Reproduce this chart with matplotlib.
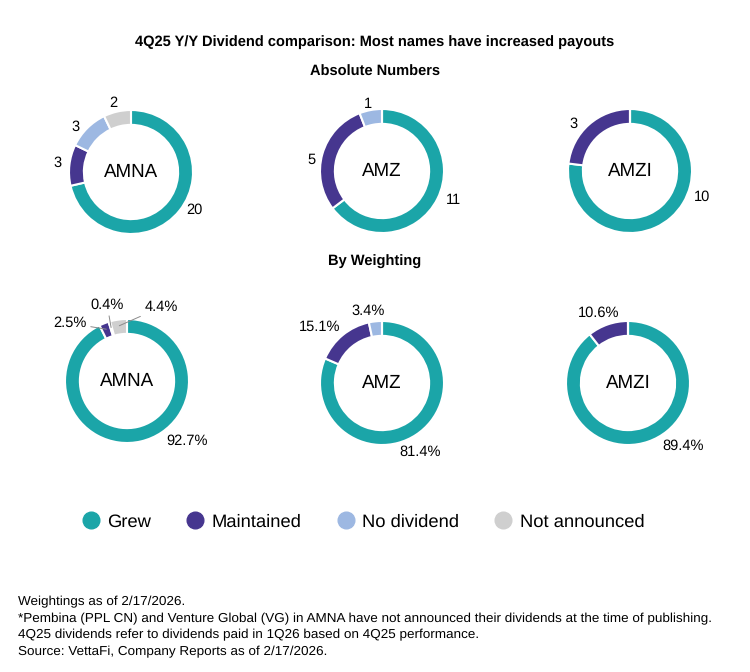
import numpy as np
import matplotlib
matplotlib.use("Agg")
import matplotlib.pyplot as plt
from matplotlib.lines import Line2D

plt.rcParams['font.family'] = ['Liberation Sans', 'DejaVu Sans']
plt.rcParams['text.hinting'] = 'no_hinting'

# data
categories = ['Grew', 'Maintained', 'No dividend', 'Not announced']
colors = ['#1BA5A8', '#46368F', '#9DB8E2', '#CFCFCF']

funds = ['AMNA', 'AMZ', 'AMZI']
abs_amna = [20, 3, 3, 2]
abs_amz = [11, 5, 1, 0]
abs_amzi = [10, 3, 0, 0]
wt_amna = [92.7, 2.5, 0.4, 4.4]
wt_amz = [81.4, 15.1, 3.4, 0]
wt_amzi = [89.4, 10.6, 0, 0]

footnotes = [
    'Weightings as of 2/17/2026.',
    '*Pembina (PPL CN) and Venture Global (VG) in AMNA have not announced their dividends at the time of publishing.',
    '4Q25 dividends refer to dividends paid in 1Q26 based on 4Q25 performance.',
    'Source: VettaFi, Company Reports as of 2/17/2026.',
]

W, H = 750, 672
fig = plt.figure(figsize=(W / 100, H / 100), dpi=100)

R_PX = 62
HALF = 1.6
LBL = 10.5


def donut(cx, cy, vals, name, fmt, label_at):
    # label_at: (angle clockwise from top, distance in radii) per slice, None = no label
    size = 2 * HALF * R_PX
    ax = fig.add_axes([(cx - size / 2) / W, (H - cy - size / 2) / H, size / W, size / H])
    ax.pie(vals, colors=colors, startangle=90, counterclock=False, radius=1,
           wedgeprops=dict(width=0.24, edgecolor='white', linewidth=1.5))
    ax.set_xlim(-HALF, HALF)
    ax.set_ylim(-HALF, HALF)
    ax.set_aspect('equal')
    ax.axis('off')
    ax.text(0, 0, name, ha='center', va='center', fontsize=13.5)
    for v, pos in zip(vals, label_at):
        if v == 0 or pos is None:
            continue
        t = np.radians(pos[0])
        ax.text(pos[1] * np.sin(t), pos[1] * np.cos(t), fmt(v), ha='center', va='center', fontsize=LBL)
    return ax


cnt = lambda v: '%d' % v
pct = lambda v: '%.1f%%' % v

donut(131, 172, abs_amna, 'AMNA', cnt, [(121, 1.2), (277, 1.19), (309, 1.16), (346, 1.15)])
donut(382, 171, abs_amz, 'AMZ', cnt, [(112, 1.24), (279, 1.15), (348, 1.11), None])
donut(630, 171, abs_amzi, 'AMZI', cnt, [(110, 1.24), (310, 1.18), None, None])

ax_w = donut(127, 381, wt_amna, 'AMNA', pct, [(135, 1.37), None, None, None])
donut(382, 383, wt_amz, 'AMZ', pct, [(151, 1.28), (312, 1.35), (349, 1.18), None])
donut(628, 383, wt_amzi, 'AMZI', pct, [(139, 1.35), (337, 1.23), None, None])

# small AMNA weighting slices with leader lines
lead = dict(arrowstyle='-', color='#8a8a8a', lw=0.7, shrinkA=1, shrinkB=0)
tot = sum(wt_amna)
cum = wt_amna[0]
text_pos = {1: (-0.92, 0.93), 2: (-0.32, 1.23), 3: (0.55, 1.19)}
for i in (1, 2, 3):
    mid = np.radians((cum + wt_amna[i] / 2) / tot * 360)
    cum += wt_amna[i]
    xy = (0.9 * np.sin(mid), 0.9 * np.cos(mid))
    ax_w.annotate(pct(wt_amna[i]), xy=xy, xytext=text_pos[i], ha='center', va='center',
                  fontsize=LBL, arrowprops=lead)

fig.text(0.5, 1 - 42 / H, '4Q25 Y/Y Dividend comparison: Most names have increased payouts',
         ha='center', va='center', fontsize=10.5, fontweight='bold')
fig.text(0.5, 1 - 72 / H, 'Absolute Numbers', ha='center', va='center', fontsize=10.5, fontweight='bold')
fig.text(0.5, 1 - 262 / H, 'By Weighting', ha='center', va='center', fontsize=10.5, fontweight='bold')

handles = [Line2D([], [], marker='o', linestyle='none', markersize=12,
                  markerfacecolor=c, markeredgecolor=c) for c in colors]
fig.legend(handles, categories, loc='center', bbox_to_anchor=(363 / W, 1 - 522 / H), ncol=4,
           frameon=False, fontsize=13.2, handlelength=1.0, handletextpad=0.4, columnspacing=1.9)

for k, line in enumerate(footnotes):
    fig.text(18 / W, 1 - (602 + k * 16.7) / H, line, ha='left', va='center', fontsize=9.7)

fig.savefig('out.png', dpi=100, facecolor='white')
